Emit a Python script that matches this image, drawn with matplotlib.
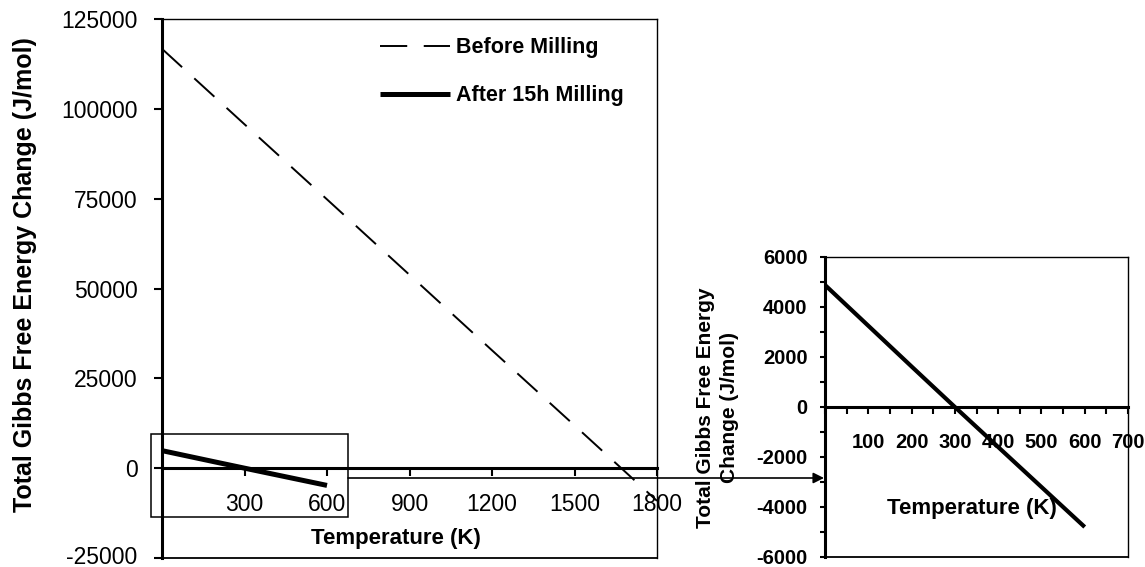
import matplotlib
matplotlib.use("Agg")
import matplotlib.pyplot as plt
from matplotlib.patches import Rectangle
from matplotlib.ticker import MultipleLocator
from matplotlib.transforms import ScaledTranslation

plt.rcParams['font.family'] = ['Liberation Sans', 'DejaVu Sans']

# ---- data ----
T_before = [0, 300, 600, 900, 1200, 1500, 1800]
G_before = [116700, 95700, 74800, 53800, 32800, 11900, -9100]
T_after = [0, 100, 200, 300, 400, 500, 600]
G_after = [4880, 3250, 1620, 0, -1600, -3200, -4800]

main_xticks = [300, 600, 900, 1200, 1500, 1800]
main_yticks = [-25000, 0, 25000, 50000, 75000, 100000, 125000]
inset_xticks = [100, 200, 300, 400, 500, 600, 700]
inset_yticks = [-6000, -4000, -2000, 0, 2000, 4000, 6000]

labels = ['Before Milling', 'After 15h Milling']
xlabel = 'Temperature (K)'
ylabel_main = 'Total Gibbs Free Energy Change (J/mol)'
ylabel_inset = 'Total Gibbs Free Energy\nChange (J/mol)'

W, H = 1145, 567
fig = plt.figure(figsize=(W / 100, H / 100), dpi=100)

# ---- main axes ----
ax = fig.add_axes([162 / W, 1 - 558 / H, 495 / W, 539 / H])
ax.plot(T_before, G_before, color='black', lw=1.4, linestyle=(0, (14, 8.5)),
        label=labels[0])
ax.plot(T_after, G_after, color='black', lw=3.6, solid_capstyle='butt',
        label=labels[1])
ax.set_xlim(0, 1800)
ax.set_ylim(-25000, 125000)
ax.spines['bottom'].set_position(('data', 0))
ax.spines['bottom'].set_linewidth(2.2)
ax.spines['left'].set_linewidth(2.2)
ax.spines['top'].set_linewidth(1.0)
ax.spines['right'].set_linewidth(1.0)
ax.plot([0, 1], [0, 0], transform=ax.transAxes, color='black', lw=1.3,
        clip_on=False)
ax.set_xticks(main_xticks)
ax.set_xticklabels([str(v) for v in main_xticks])
ax.set_yticks(main_yticks)
ax.set_yticklabels([str(v) for v in main_yticks])
ax.tick_params(axis='x', direction='out', length=6, width=1.5, pad=12,
               labelsize=16.5)
ax.tick_params(axis='y', direction='out', length=6, width=1.5, pad=11.5,
               labelsize=16.5)
# lift the lowest y tick label slightly so it stays inside the canvas
lowest = ax.get_yticklabels()[0]
lowest.set_transform(lowest.get_transform() +
                     ScaledTranslation(0, 3 / 100, fig.dpi_scale_trans))
ax.set_xlabel(xlabel, fontsize=16, fontweight='bold', va='center')
ax.xaxis.set_label_coords(0.473, 0.037)
ax.set_ylabel(ylabel_main, fontsize=18, fontweight='bold', va='center')
ax.yaxis.set_label_coords(-0.277, 0.525)
ax.legend(loc='upper left', bbox_to_anchor=(0.44, 0.966), frameon=False,
          handlelength=3.25, handletextpad=0.3, labelspacing=1.25,
          borderpad=0, borderaxespad=0,
          prop={'weight': 'bold', 'size': 15.5})

# zoom box around the low-temperature region
ax.add_patch(Rectangle((-40, -13590), 716, 23100, fill=False, lw=1.1,
                       edgecolor='black', clip_on=False, zorder=5))

# ---- inset axes ----
ax2 = fig.add_axes([825 / W, 1 - 557 / H, 303 / W, 300 / H])
ax2.plot(T_after, G_after, color='black', lw=3.0, solid_capstyle='butt')
ax2.set_xlim(0, 700)
ax2.set_ylim(-6000, 6000)
ax2.spines['bottom'].set_position(('data', 0))
ax2.spines['bottom'].set_linewidth(2.2)
ax2.spines['left'].set_linewidth(2.2)
ax2.spines['top'].set_linewidth(1.0)
ax2.spines['right'].set_linewidth(1.0)
ax2.plot([0, 1], [0, 0], transform=ax2.transAxes, color='black', lw=1.3,
         clip_on=False)
ax2.set_xticks(inset_xticks)
ax2.set_xticklabels([str(v) for v in inset_xticks])
ax2.set_yticks(inset_yticks)
ax2.set_yticklabels([str(v) for v in inset_yticks])
ax2.xaxis.set_minor_locator(MultipleLocator(50))
ax2.yaxis.set_minor_locator(MultipleLocator(1000))
ax2.tick_params(axis='x', which='both', direction='out', length=5, width=1.5,
                pad=13.5, labelsize=14.5)
ax2.tick_params(axis='y', which='both', direction='out', length=3.6,
                width=1.5, pad=9, labelsize=14.5)
for t in ax2.get_xticklabels() + ax2.get_yticklabels():
    t.set_fontweight('bold')
ax2.set_xlabel(xlabel, fontsize=16, fontweight='bold', va='center')
ax2.xaxis.set_label_coords(0.485, 0.163)
ax2.set_ylabel(ylabel_inset, fontsize=15, fontweight='bold', va='center',
               linespacing=1.35, multialignment='center')
ax2.yaxis.set_label_coords(-0.355, 0.497)

# connecting arrow
ax.annotate('', xy=(824 / W, 1 - 478 / H), xytext=(348 / W, 1 - 478 / H),
            xycoords='figure fraction', textcoords='figure fraction',
            arrowprops=dict(arrowstyle='-|>', lw=1.2, color='black',
                            shrinkA=0, shrinkB=0, mutation_scale=16))

fig.savefig('out.png', dpi=100)
